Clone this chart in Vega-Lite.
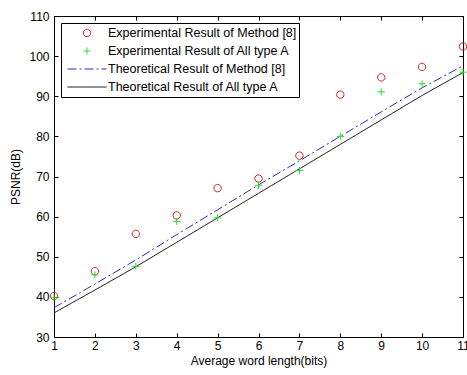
{
  "$schema": "https://vega.github.io/schema/vega-lite/v6.json",
  "width": 409,
  "height": 321,
  "autosize": {"type": "none"},
  "padding": {"left": 54, "top": 16, "right": 4, "bottom": 38},
  "background": "white",
  "config": {
    "view": {"stroke": null},
    "font": "Liberation Sans",
    "axis": {
      "domainColor": "#000000",
      "tickColor": "#000000",
      "labelColor": "#000000",
      "titleColor": "#000000",
      "labelFont": "Liberation Sans",
      "titleFont": "Liberation Sans",
      "labelFontSize": 12,
      "titleFontSize": 12,
      "titleFontWeight": "normal",
      "grid": false,
      "tickSize": -4,
      "labelFlush": false,
      "labelOverlap": false,
      "labelBound": false
    },
    "legend": {
      "title": null, "orient": "none", "legendX": 7, "legendY": 7,
      "strokeColor": "#000000", "fillColor": "#ffffff", "padding": 2, "cornerRadius": 0,
      "clipHeight": 16, "rowPadding": 2, "symbolOffset": 4, "labelOffset": 1,
      "symbolSize": 1521, "symbolStrokeWidth": 1, "symbolFillColor": "transparent",
      "labelFont": "Liberation Sans", "labelFontSize": 12.5, "labelColor": "#000000", "labelLimit": 400
    }
  },
  "datasets": {
    "d": [
      {"x": 1, "y": 40.2, "series": "Experimental Result of Method [8]"},
      {"x": 2, "y": 46.4, "series": "Experimental Result of Method [8]"},
      {"x": 3, "y": 55.7, "series": "Experimental Result of Method [8]"},
      {"x": 4, "y": 60.3, "series": "Experimental Result of Method [8]"},
      {"x": 5, "y": 67.1, "series": "Experimental Result of Method [8]"},
      {"x": 6, "y": 69.5, "series": "Experimental Result of Method [8]"},
      {"x": 7, "y": 75.2, "series": "Experimental Result of Method [8]"},
      {"x": 8, "y": 90.4, "series": "Experimental Result of Method [8]"},
      {"x": 9, "y": 94.7, "series": "Experimental Result of Method [8]"},
      {"x": 10, "y": 97.3, "series": "Experimental Result of Method [8]"},
      {"x": 11, "y": 102.4, "series": "Experimental Result of Method [8]"},
      {"x": 1, "y": 39.8, "series": "Experimental Result of All type A"},
      {"x": 2, "y": 45.5, "series": "Experimental Result of All type A"},
      {"x": 3, "y": 47.6, "series": "Experimental Result of All type A"},
      {"x": 4, "y": 58.8, "series": "Experimental Result of All type A"},
      {"x": 5, "y": 59.7, "series": "Experimental Result of All type A"},
      {"x": 6, "y": 67.8, "series": "Experimental Result of All type A"},
      {"x": 7, "y": 71.5, "series": "Experimental Result of All type A"},
      {"x": 8, "y": 80.0, "series": "Experimental Result of All type A"},
      {"x": 9, "y": 91.1, "series": "Experimental Result of All type A"},
      {"x": 10, "y": 93.1, "series": "Experimental Result of All type A"},
      {"x": 11, "y": 96.0, "series": "Experimental Result of All type A"},
      {"x": 1, "y": 37.3, "series": "Theoretical Result of Method [8]"},
      {"x": 2, "y": 43.2, "series": "Theoretical Result of Method [8]"},
      {"x": 3, "y": 49.2, "series": "Theoretical Result of Method [8]"},
      {"x": 4, "y": 55.5, "series": "Theoretical Result of Method [8]"},
      {"x": 5, "y": 61.7, "series": "Theoretical Result of Method [8]"},
      {"x": 6, "y": 67.9, "series": "Theoretical Result of Method [8]"},
      {"x": 7, "y": 73.9, "series": "Theoretical Result of Method [8]"},
      {"x": 8, "y": 80.0, "series": "Theoretical Result of Method [8]"},
      {"x": 9, "y": 86.1, "series": "Theoretical Result of Method [8]"},
      {"x": 10, "y": 92.1, "series": "Theoretical Result of Method [8]"},
      {"x": 11, "y": 97.6, "series": "Theoretical Result of Method [8]"},
      {"x": 1, "y": 36.0, "series": "Theoretical Result of All type A"},
      {"x": 2, "y": 41.7, "series": "Theoretical Result of All type A"},
      {"x": 3, "y": 47.5, "series": "Theoretical Result of All type A"},
      {"x": 4, "y": 53.6, "series": "Theoretical Result of All type A"},
      {"x": 5, "y": 59.7, "series": "Theoretical Result of All type A"},
      {"x": 6, "y": 65.8, "series": "Theoretical Result of All type A"},
      {"x": 7, "y": 71.9, "series": "Theoretical Result of All type A"},
      {"x": 8, "y": 78.0, "series": "Theoretical Result of All type A"},
      {"x": 9, "y": 84.1, "series": "Theoretical Result of All type A"},
      {"x": 10, "y": 90.2, "series": "Theoretical Result of All type A"},
      {"x": 11, "y": 95.9, "series": "Theoretical Result of All type A"}
    ]
  },
  "data": {"name": "d"},
  "layer": [
    {
      "transform": [{"filter": "indexof(datum.series, 'Theoretical') === 0"}],
      "mark": {"type": "line", "strokeWidth": 1, "clip": true},
      "encoding": {
        "x": {"field": "x", "type": "quantitative",
          "scale": {"domain": [1, 11], "nice": false, "zero": false},
          "axis": {"orient": "bottom", "title": "Average word length(bits)", "values": [1,2,3,4,5,6,7,8,9,10,11], "labelPadding": 7, "titlePadding": 4}},
        "y": {"field": "y", "type": "quantitative",
          "scale": {"domain": [30, 110], "nice": false, "zero": false},
          "axis": {"orient": "left", "title": "PSNR(dB)", "values": [30,40,50,60,70,80,90,100,110], "labelPadding": 9, "titlePadding": 6}},
        "color": {"field": "series", "type": "nominal",
          "scale": {"domain": ["Experimental Result of Method [8]", "Experimental Result of All type A", "Theoretical Result of Method [8]", "Theoretical Result of All type A"],
                    "range": ["#d42020", "#22dd22", "#2a2ab8", "#000000"]}},
        "strokeDash": {"field": "series", "type": "nominal",
          "scale": {"domain": ["Experimental Result of Method [8]", "Experimental Result of All type A", "Theoretical Result of Method [8]", "Theoretical Result of All type A"],
                    "range": [[1, 0], [1, 0], [9, 3, 2, 3], [1, 0]]}}
      }
    },
    {
      "transform": [{"filter": "indexof(datum.series, 'Experimental') === 0"}],
      "mark": {"type": "point", "filled": false, "size": 1521, "strokeWidth": 1, "opacity": 1, "clip": false},
      "encoding": {
        "x": {"field": "x", "type": "quantitative",
          "scale": {"domain": [1, 11], "nice": false, "zero": false},
          "axis": {"orient": "top", "title": null, "labels": false, "values": [1,2,3,4,5,6,7,8,9,10,11]}},
        "y": {"field": "y", "type": "quantitative",
          "scale": {"domain": [30, 110], "nice": false, "zero": false},
          "axis": {"orient": "right", "title": null, "labels": false, "values": [30,40,50,60,70,80,90,100,110]}},
        "color": {"field": "series", "type": "nominal",
          "scale": {"domain": ["Experimental Result of Method [8]", "Experimental Result of All type A", "Theoretical Result of Method [8]", "Theoretical Result of All type A"],
                    "range": ["#d42020", "#22dd22", "#2a2ab8", "#000000"]}},
        "shape": {"field": "series", "type": "nominal",
          "scale": {"domain": ["Experimental Result of Method [8]", "Experimental Result of All type A", "Theoretical Result of Method [8]", "Theoretical Result of All type A"],
                    "range": ["M-0.19,0A0.19,0.19,0,1,1,0.19,0A0.19,0.19,0,1,1,-0.19,0Z", "M-0.18,0H0.18M0,-0.18V0.18", "M-1,0H1", "M-1,0H1"]}}
      }
    }
  ],
  "resolve": {"axis": {"x": "independent", "y": "independent"}}
}
